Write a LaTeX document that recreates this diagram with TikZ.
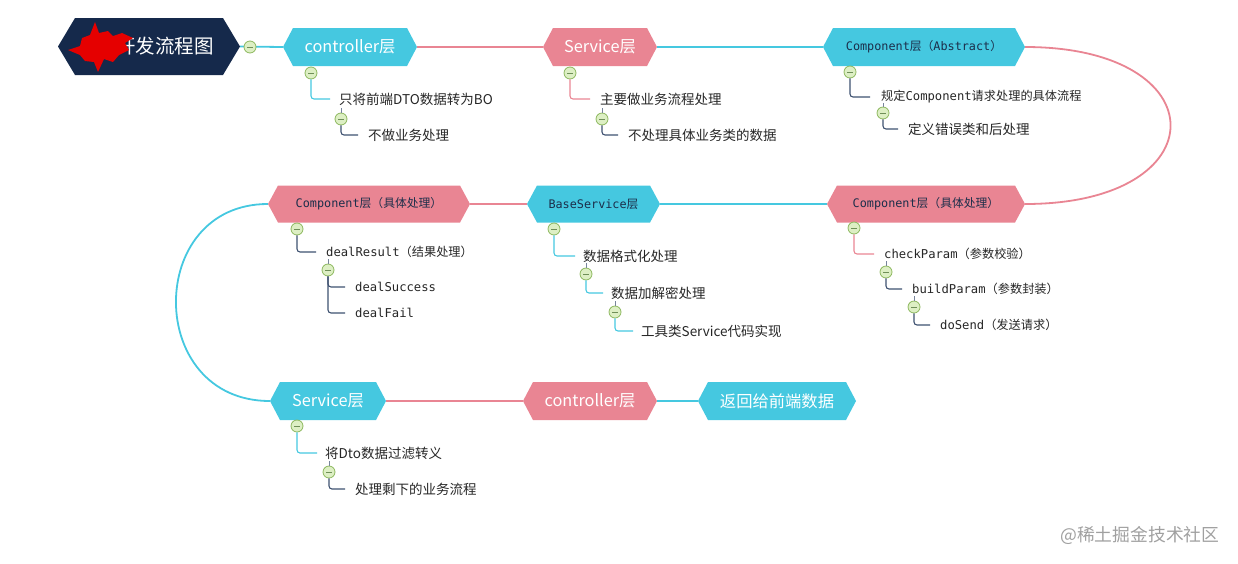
\documentclass[tikz,border=0pt]{standalone}
\usepackage{fontspec}
\setmainfont{Noto Sans CJK SC}
\newfontfamily\cjk{Noto Sans CJK SC}
\newfontfamily\mono{DejaVu Sans Mono}
\usetikzlibrary{backgrounds}
\definecolor{hcyan}{HTML}{45C8E0}
\definecolor{hpink}{HTML}{E98593}
\definecolor{hnavy}{HTML}{15294B}
\definecolor{navytext}{HTML}{1C2E4A}
\definecolor{edark}{HTML}{3E5170}
\definecolor{togline}{HTML}{8DB85E}
\definecolor{togfill}{HTML}{DDEFC4}
\definecolor{togminus}{HTML}{6F8F58}
\definecolor{wm}{HTML}{A0A0A0}
\tikzset{
  hexbox/.style n args={4}{inner sep=0, minimum width=#1, minimum height=#2, fill=white,
    path picture={\fill[#3] (path picture bounding box.west)
      -- ([xshift=#4]path picture bounding box.north west)
      -- ([xshift=-#4]path picture bounding box.north east)
      -- (path picture bounding box.east)
      -- ([xshift=-#4]path picture bounding box.south east)
      -- ([xshift=#4]path picture bounding box.south west) -- cycle;}},
  hextxt/.style={font=\fontsize{16.3}{18}\selectfont, text=white},
  hexmono/.style={font=\fontsize{11.8}{14}\selectfont, text=navytext},
  child/.style={anchor=west, inner sep=0, font=\fontsize{13.5}{15}\selectfont, text=black!85},
  childmono/.style={anchor=west, inner sep=0, font=\fontsize{12.2}{14}\selectfont, text=black!85},
  tog/.style={circle, draw=togline, fill=togfill, minimum size=12, inner sep=0, line width=0.8,
    path picture={\draw[togminus, line width=0.9] ([xshift=-3]path picture bounding box.center) -- ([xshift=3]path picture bounding box.center);}},
  mainline/.style={line width=1.8},
  elb/.style={line width=1.1, rounded corners=3},
  tick/.style={line width=0.6, edark!70},
}
\begin{document}
\begin{tikzpicture}[x=1pt,y=-1pt]
\useasboundingbox (0,0) rectangle (1238,563);

% ---------- main hexagon nodes ----------
\node[hexbox={182}{57}{hnavy}{17}] (title) at (149,46.5) {};
\node[hexbox={134}{38}{hcyan}{10}, hextxt] (ctrlA) at (350,47) {controller层};
\node[hexbox={114}{38}{hpink}{10}, hextxt] (svcA) at (600,47) {Service层};
\node[hexbox={202}{38}{hcyan}{10}, hexmono] (compA) at (924,47) {\mono Component\cjk 层（\mono Abstract\cjk ）};
\node[hexbox={198}{37}{hpink}{10}, hexmono] (compR) at (926,204) {\mono Component\cjk 层（具体处理）};
\node[hexbox={133}{37}{hcyan}{10}, hexmono] (baseS) at (593.5,204) {\mono BaseService\cjk 层};
\node[hexbox={202}{37}{hpink}{10}, hexmono] (compL) at (369,204) {\mono Component\cjk 层（具体处理）};
\node[hexbox={116}{38}{hcyan}{10}, hextxt] (svcB) at (328,401) {Service层};
\node[hexbox={134}{38}{hpink}{10}, hextxt] (ctrlB) at (590,401) {controller层};
\node[hexbox={158}{38}{hcyan}{10}, hextxt] (ret) at (777,401) {返回给前端数据};

% title text and redaction blob
\node[anchor=west, inner sep=0, text=white, font=\fontsize{19.5}{21}\selectfont] (titletxt) at (116,46.5) {开发流程图};
\fill[red!90!black] (95,22) -- (99,33) -- (108,31) -- (113,36) -- (122,33) -- (133,38) -- (125,43) -- (129,50) -- (119,55) -- (113,62) -- (104,59) -- (98,72) -- (94,62) -- (85,61) -- (80,55) -- (68,50) -- (80,46) -- (82,38) -- (90,35) -- cycle;

% ---------- main connectors ----------
\begin{scope}[on background layer]
\draw[mainline, hcyan] (title.east) -- (ctrlA.west);
\draw[mainline, hpink] (ctrlA.east) -- (svcA.west);
\draw[mainline, hcyan] (svcA.east) -- (compA.west);
\draw[mainline, hpink] (compA.east) .. controls (1219,47) and (1219,204) .. (compR.east);
\draw[mainline, hcyan] (compR.west) -- (baseS.east);
\draw[mainline, hpink] (baseS.west) -- (compL.east);
\draw[mainline, hcyan] (compL.west) .. controls (145,204) and (145,401) .. (svcB.west);
\draw[mainline, hpink] (svcB.east) -- (ctrlB.west);
\draw[mainline, hcyan] (ctrlB.east) -- (ret.west);
\end{scope}
\node[tog] (g0) at (250,47) {};

% ---------- controller (top) children ----------
\node[tog] (g1) at (311,73) {};
\node[child] (a1) at (339,99) {只将前端DTO数据转为BO};
\node[tog] (g2) at (341,119) {};
\node[child] (a2) at (368,135) {不做业务处理};
\draw[elb, hcyan] (g1.south) |- ([xshift=-9]a1.west);
\draw[tick] (g2.north) -- ++(0,-5);
\draw[elb, edark] (g2.south) |- ([xshift=-10]a2.west);

% ---------- Service (top) children ----------
\node[tog] (g3) at (570,73) {};
\node[child] (b1) at (600,99) {主要做业务流程处理};
\node[tog] (g4) at (602,119) {};
\node[child] (b2) at (628,135) {不处理具体业务类的数据};
\draw[elb, hpink] (g3.south) |- ([xshift=-10]b1.west);
\draw[tick] (g4.north) -- ++(0,-5);
\draw[elb, edark] (g4.south) |- ([xshift=-10]b2.west);

% ---------- Component (Abstract) children ----------
\node[tog] (g5) at (850,72) {};
\node[childmono] (c1) at (881,97) {\cjk 规定\mono Component\cjk 请求处理的具体流程};
\node[tog] (g6) at (883,113) {};
\node[child] (c2) at (908,129) {定义错误类和后处理};
\draw[elb, edark] (g5.south) |- ([xshift=-11]c1.west);
\draw[tick] (g6.north) -- ++(0,-4);
\draw[elb, edark] (g6.south) |- ([xshift=-10]c2.west);

% ---------- Component (right) children ----------
\node[tog] (g7) at (854,228) {};
\node[childmono] (d1) at (884,254) {\mono checkParam\cjk （参数校验）};
\node[tog] (g8) at (886,272) {};
\node[childmono] (d2) at (912,289) {\mono buildParam\cjk （参数封装）};
\node[tog] (g9) at (914,307) {};
\node[childmono] (d3) at (940,325) {\mono doSend\cjk （发送请求）};
\draw[elb, hpink] (g7.south) |- ([xshift=-10]d1.west);
\draw[tick] (g8.north) -- ++(0,-5);
\draw[elb, edark] (g8.south) |- ([xshift=-10]d2.west);
\draw[tick] (g9.north) -- ++(0,-5);
\draw[elb, edark] (g9.south) |- ([xshift=-10]d3.west);

% ---------- BaseService children ----------
\node[tog] (g10) at (554,229) {};
\node[child] (e1) at (583,256) {数据格式化处理};
\node[tog] (g11) at (586,274) {};
\node[child] (e2) at (611,293) {数据加解密处理};
\node[tog] (g12) at (615,312) {};
\node[child] (e3) at (641,331) {工具类Service代码实现};
\draw[elb, hcyan] (g10.south) |- ([xshift=-8]e1.west);
\draw[tick] (g11.north) -- ++(0,-5);
\draw[elb, hcyan] (g11.south) |- ([xshift=-8]e2.west);
\draw[tick] (g12.north) -- ++(0,-5);
\draw[elb, hcyan] (g12.south) |- ([xshift=-8]e3.west);

% ---------- Component (left) children ----------
\node[tog] (g13) at (297,229) {};
\node[childmono] (f1) at (326,252) {\mono dealResult\cjk （结果处理）};
\node[tog] (g14) at (328,270) {};
\node[childmono] (f2) at (355,287) {\mono dealSuccess};
\node[childmono] (f3) at (355,313) {\mono dealFail};
\draw[elb, edark] (g13.south) |- ([xshift=-10]f1.west);
\draw[tick] (g14.north) -- ++(0,-5);
\draw[elb, edark] (g14.south) |- ([xshift=-10]f2.west);
\draw[elb, edark] (g14.south) |- ([xshift=-10]f3.west);

% ---------- Service (bottom) children ----------
\node[tog] (g15) at (297,426) {};
\node[child] (h1) at (325,453) {将Dto数据过滤转义};
\node[tog] (g16) at (329,472) {};
\node[child] (h2) at (355,489) {处理剩下的业务流程};
\draw[elb, hcyan] (g15.south) |- ([xshift=-8]h1.west);
\draw[tick] (g16.north) -- ++(0,-5);
\draw[elb, edark] (g16.south) |- ([xshift=-10]h2.west);

% ---------- watermark ----------
\node[anchor=west, inner sep=0, text=wm, font=\fontsize{17.8}{19}\selectfont] (wmk) at (1060,535) {@稀土掘金技术社区};
\end{tikzpicture}
\end{document}
